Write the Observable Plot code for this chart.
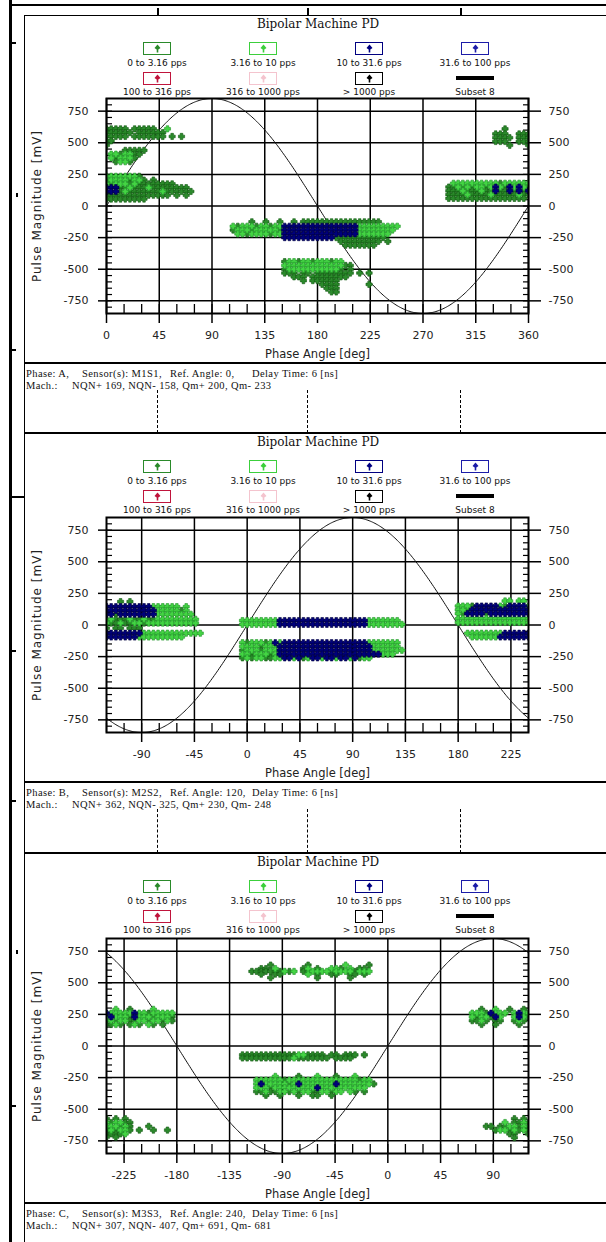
<!DOCTYPE html>
<html>
<head>
<meta charset="utf-8">
<script src="https://cdn.jsdelivr.net/npm/d3@7"></script>
<script src="https://cdn.jsdelivr.net/npm/@observablehq/plot@0.6"></script>
<style>
  body { margin: 0; background: #fff; }
  #page { position: relative; width: 606px; height: 1242px; overflow: hidden; background: #fff; }
  .rule { position: absolute; background: #000; }
  .dash { position: absolute; width: 0; border-left: 1.5px dashed #000; }
  .title { position: absolute; font: 12px "DejaVu Serif", serif; color: #111; transform: translateX(-50%); white-space: nowrap; line-height: 13px; }
  .lg-box { position: absolute; box-sizing: border-box; background: #fff; display: flex; align-items: center; justify-content: center; }
  .lg-label { position: absolute; font: 9px "DejaVu Sans", sans-serif; color: #111; transform: translateX(-50%); white-space: nowrap; line-height: 10px; }
  .info { position: absolute; font: 10.5px "Liberation Serif", serif; letter-spacing: 0.4px; color: #111; white-space: pre; line-height: 12px; }
  .plot { position: absolute; left: 0; }
  g[aria-label="y-axis label"] text { font-size: 12px; letter-spacing: 1px; }
  g[aria-label="x-axis label"] text { font-size: 11.5px; }
</style>
</head>
<body>
<div id="page"></div>
<script>
// ---- chart content -------------------------------------------------------
const chartTitle = "Bipolar Machine PD";
const xLabel = "Phase Angle [deg]";
const yLabel = "Pulse Magnitude [mV]";

// pulse-rate classes shown in the legend
const legendLabels = [
  "0 to 3.16 pps", "3.16 to 10 pps", "10 to 31.6 pps", "31.6 to 100 pps",
  "100 to 316 pps", "316 to 1000 pps", "> 1000 pps", "Subset 8"
];
const legendColors = ["#2a8a2a", "#3ccf3c", "#000080", "#1c1ca8", "#c0143c", "#f4c4ce", "#000000", "#000000"];

// phase axes (reference angles 0, 120, 240)
const xDomains = [[0, 360], [-120, 240], [-240, 120]];
const xTicksA = [0, 45, 90, 135, 180, 225, 270, 315, 360];
const xTicksB = [-90, -45, 0, 45, 90, 135, 180, 225];
const xTicksC = [-225, -180, -135, -90, -45, 0, 45, 90];
const yTicks = [-750, -500, -250, 0, 250, 500, 750];
const yDomain = [-850, 850];
const refAmplitude = 850; // reference sine drawn over each PRPD map

// info strip under each map
const infoLine1 = [
  ["Phase: A,", "Sensor(s): M1S1,", "Ref. Angle: 0,", "Delay Time: 6 [ns]"],
  ["Phase: B,", "Sensor(s): M2S2,", "Ref. Angle: 120,", "Delay Time: 6 [ns]"],
  ["Phase: C,", "Sensor(s): M3S3,", "Ref. Angle: 240,", "Delay Time: 6 [ns]"]
];
const infoLine2 = [
  ["Mach.:", "NQN+ 169, NQN- 158, Qm+ 200, Qm- 233"],
  ["Mach.:", "NQN+ 362, NQN- 325, Qm+ 230, Qm- 248"],
  ["Mach.:", "NQN+ 307, NQN- 407, Qm+ 691, Qm- 681"]
];

// PD pulse maps: [magnitude mV, first phase deg, one cell per phaseStep]
// d = 0-3.16 pps, l = 3.16-10 pps, n = 10-31.6 pps, "." = no pulses
const phaseStep = 4;
const clustersA = [
  [610, 0, "ddddd.ddddd..l"],
  [580, 0, "dddddd.dddddd"],
  [550, 0, "ddddd.ddddddd.d.d"],
  [515, 0, "dd"],
  [480, 0, "d"],
  [440, 16, "ddddd"],
  [410, 4, "lldlldd"],
  [380, 4, "ldllld"],
  [350, 8, "dlld"],
  [235, 0, "llllllld"],
  [205, 0, "dlllldlld.d"],
  [175, 0, "ldllldldddddddd"],
  [145, 0, "nnnddldddldddddddd"],
  [115, 0, "nnndldddddddldddddd"],
  [85, 0, "dddddddddddddd.d.d"],
  [55, 0, "ddddddddd"],
  [-125, 124, "d..d..d..d.ddddddddddddddddd"],
  [-160, 108, "ldllldlldllnnnnnnnnnnnnnnnnlllllllll"],
  [-190, 108, "dllldllllldnnnnnnnnnnnnnnnnllllllll"],
  [-220, 108, ".lldlllldllnnnnnnnnnnnnnnnnlllllll"],
  [-250, 108, "...........nnnnnnnnnnnddddddddddd"],
  [-280, 108, ".......................ddddddddd.d"],
  [-310, 108, "........................ddddddd"],
  [-440, 152, "dlldlldllldll"],
  [-470, 152, "llllllllllllldd"],
  [-500, 152, "dllllllllllld.d"],
  [-530, 152, "ddd.dd.dddddddd.d.d"],
  [-560, 152, "..ddd.dddddddd"],
  [-590, 152, "....d.dddddd"],
  [-620, 152, "........dddd......d"],
  [-650, 152, ".........ddd"],
  [-680, 152, "..........dd"],
  [180, 292, ".lllllllllldllllll"],
  [150, 292, "ddldldlldlnldnlnld"],
  [120, 292, "dddldddlddnddndndn"],
  [90, 292, "ddddlddddldddddldd"],
  [60, 292, "ddddddddddddddddd"],
  [610, 332, "..d....."],
  [570, 332, "ddd..ddd"],
  [540, 332, "dddd.ddd"],
  [510, 332, "ddd..ddd"],
  [480, 332, "...d...d"]
];
const clustersB = [
  [185, -120, "...d.d"],
  [145, -120, "nnnnnnnnnnllllll.l"],
  [115, -120, "nnnnnnnnnnnllllldl"],
  [85, -120, "nndnnnnnnnnllllllll"],
  [45, -120, "dldddlddlddlllllllll"],
  [15, -120, "lddlddlldlllllllllll"],
  [-25, -120, "d.dd.ddd"],
  [-65, -120, "nnnnnnnnlllllllllllll"],
  [-95, -120, "nnnnnnnllllllllll"],
  [35, -4, "llllllllnnnnnnnnnnnnnnnnnnnlllllll"],
  [5, -4, "llllllllnnnnnnnnnnnnnnnnnnnllllllll"],
  [-140, -4, "ldllldlnlnnnnnnnnnnnnnnnnnnlllllll"],
  [-170, -4, "lllldlllnnnnnnnnnnnnnnnnnnnnllllll"],
  [-200, -4, "dllldlllnnnnnnnnnnnnnnnnnnnnlllllll"],
  [-230, -4, "lldllldlnnnnnnnnnnnnnnnnnnnnnnlll"],
  [-260, -4, "dldllddllnnlndlnnlnnlnnlndll"],
  [190, 180, "..........ll.ll."],
  [150, 180, "llldnnnnnldnnnnl"],
  [120, 180, "lldnnnnnnnnnnnnn"],
  [90, 180, "ldnnnndnnnnnnnnn"],
  [50, 180, "llllllllllllllll"],
  [20, 180, "llllllllllllllll"],
  [-65, 180, "..llllllllnnnnnn"],
  [-95, 180, "...llllllnnnnnnn"]
];
const clustersC = [
  [290, -240, "..l..d....l"],
  [260, -240, "nlllllnlldlllll"],
  [230, -240, "lnllldnllldllld"],
  [200, -240, "dldllddlldlldld"],
  [170, -240, "ddld.dld.ld.d"],
  [640, -116, "....d.......d.......l....d"],
  [612, -116, "..dd.l.....dl.d..lld.l.dd."],
  [590, -116, "dddddddldl.ddlllldlllldlll"],
  [568, -116, "..d..dd.....l.d..dd..dd.d."],
  [540, -116, "....d.........d......d...."],
  [-70, -124, "ddddddddddddlldddd.dd.ddd.d"],
  [-95, -124, "dddddddddddlddddddd.dddd"],
  [-240, -112, "....l....d...l...d...l...."],
  [-270, -112, "lllllldllllllllllllllldll"],
  [-300, -112, "lnllllldlnlllllllnllllllld"],
  [-330, -112, "llldlllllllllnllllllllll"],
  [-360, -112, "ddlddlldldllddlldll.ld.d"],
  [-390, -112, "..d..d...d..dd..d"],
  [290, 72, "..d..l..d..d."],
  [260, 72, "llldnlll.lnll"],
  [230, 72, "ldlldnl..lnld"],
  [200, 72, "ddld.dd..dld."],
  [170, 72, "..d..d....d.."],
  [-575, -240, "d.d.d"],
  [-605, -240, "ldlldd"],
  [-635, -240, "llldld...d"],
  [-665, -240, "dldlld.d..d..d"],
  [-695, -240, "ddddl"],
  [-720, -240, "d.d"],
  [-575, 84, "......d.d."],
  [-605, 84, "....l.ddld"],
  [-635, 84, "dd.ddlldld"],
  [-665, 84, "..dlldldld"],
  [-695, 84, ".....dd..d"],
  [-725, 84, "......d..."]
];

// ---- drawing ---------------------------------------------------------------
const rateFill = { d: "#2b8a2b", l: "#44d444", n: "#00007c" };
const rateStroke = { d: "#125a12", l: "#22962a", n: "#00003f" };

// filled cross used for every pulse marker
const crossSymbol = {
  draw(ctx, size) {
    const r = Math.sqrt(size / Math.PI);
    const w = r * 0.42;
    ctx.moveTo(-w, -r); ctx.lineTo(w, -r); ctx.lineTo(w, -w); ctx.lineTo(r, -w);
    ctx.lineTo(r, w); ctx.lineTo(w, w); ctx.lineTo(w, r); ctx.lineTo(-w, r);
    ctx.lineTo(-w, w); ctx.lineTo(-r, w); ctx.lineTo(-r, -w); ctx.lineTo(-w, -w);
    ctx.closePath();
  }
};

function expandRows(rows) {
  const out = [];
  for (const [mv, start, cells] of rows) {
    [...cells].forEach((c, i) => {
      if (c !== ".") out.push({ phase: start + i * phaseStep, mv, rate: c });
    });
  }
  return out;
}

const page = document.getElementById("page");
function el(cls, css, text) {
  const e = document.createElement("div");
  e.className = cls;
  Object.assign(e.style, css);
  if (text != null) e.textContent = text;
  page.appendChild(e);
  return e;
}
const px = (v) => v + "px";
function rule(x, y, w, h) { el("rule", { left: px(x), top: px(y), width: px(w), height: px(h) }); }

// page frame
rule(9, 0, 2.5, 1242);
rule(9, 4, 597, 2);
rule(23.5, 15, 1.5, 1227);
rule(24, 14.5, 582, 1.2);
const stripDashX = [157, 307, 460];
for (const x of stripDashX) rule(x, 8, 1.5, 7);
for (const y of [42, 349, 650, 800, 1105]) rule(12, y, 4, 1.5);
for (const y of [195, 952]) rule(16, y - 2, 1.5, 4);
rule(12, 496, 12, 1.5);

const panelTops = [15, 433, 853];
const frameTops = [98, 517, 938];
const frameHeight = 215;
const xTickSets = [xTicksA, xTicksB, xTicksC];
const clusterSets = [clustersA, clustersB, clustersC];
const legendX = [157, 263, 369, 475];

function legendMarker(color) {
  const ns = "http://www.w3.org/2000/svg";
  const s = document.createElementNS(ns, "svg");
  s.setAttribute("width", "9"); s.setAttribute("height", "9");
  const p = document.createElementNS(ns, "path");
  p.setAttribute("d", "M4.5,0.5L7.5,4L5.3,5.5V8.5H3.7V5.5L1.5,4Z");
  p.setAttribute("fill", color);
  s.appendChild(p);
  return s;
}

panelTops.forEach((T, i) => {
  const F = frameTops[i];
  if (i > 0) rule(24, T - 1, 582, 2.2);

  el("title", { left: px(318), top: px(T + 3) }, chartTitle);

  // legend, two rows of four
  legendLabels.forEach((lab, k) => {
    const col = k % 4, row = Math.floor(k / 4);
    const cx = legendX[col];
    const boxTop = T + (row === 0 ? 27 : 57);
    const labelTop = T + (row === 0 ? 43 : 72);
    if (k === 7) {
      rule(cx - 19, T + 61, 38, 4);
    } else {
      const b = el("lg-box", {
        left: px(cx - 14), top: px(boxTop), width: px(28), height: px(13),
        border: `1.5px solid ${legendColors[k]}`
      });
      b.appendChild(legendMarker(legendColors[k]));
    }
    el("lg-label", { left: px(cx), top: px(labelTop) }, lab);
  });

  // the map itself
  const [x0, x1] = xDomains[i];
  const pts = expandRows(clusterSets[i]);
  const sine = d3.range(x0, x1 + 0.5, 1).map((p) => ({ p, v: refAmplitude * Math.sin(p * Math.PI / 180) }));
  const minorX = d3.range(x0, x1 + 0.1, 15);
  const minorY = d3.range(-800, 801, 50);
  const marginTop = 6, marginBottom = 52;
  const chart = Plot.plot({
    width: 606,
    height: marginTop + frameHeight + marginBottom,
    marginLeft: 106, marginRight: 78, marginTop, marginBottom,
    x: { domain: [x0, x1] },
    y: { domain: yDomain },
    style: { fontFamily: "'DejaVu Sans', sans-serif", fontSize: "11px", color: "#222", background: "transparent", overflow: "visible" },
    marks: [
      Plot.gridX(xTickSets[i], { stroke: "#000", strokeOpacity: 1, strokeWidth: 1.5 }),
      Plot.gridY(yTicks, { stroke: "#000", strokeOpacity: 1, strokeWidth: 1.5 }),
      Plot.axisX(minorX, { anchor: "bottom", tickSize: -9, fill: "none", stroke: "#000", strokeWidth: 1.3 }),
      Plot.axisY(minorY, { anchor: "left", tickSize: -6, fill: "none", stroke: "#000", strokeWidth: 1.2 }),
      Plot.axisY(minorY, { anchor: "right", tickSize: -6, fill: "none", stroke: "#000", strokeWidth: 1.2 }),
      Plot.line(sine, { x: "p", y: "v", stroke: "#111", strokeWidth: 1, clip: true }),
      ...["d", "l", "n"].map((c) => Plot.dot(pts.filter((p) => p.rate === c), {
        x: "phase", y: "mv", symbol: crossSymbol, r: 3.1,
        fill: rateFill[c], stroke: rateStroke[c], strokeWidth: 0.6, clip: true
      })),
      Plot.frame({ stroke: "#000", strokeWidth: 2 }),
      Plot.axisX(xTickSets[i], {
        anchor: "bottom", tickSize: 10, tickPadding: 8, tickFormat: (d) => String(d),
        stroke: "#000", strokeWidth: 1.5,
        label: xLabel, labelAnchor: "center", labelOffset: 44, labelArrow: false
      }),
      Plot.axisY(yTicks, {
        anchor: "left", tickSize: 8, tickPadding: 10, tickFormat: (d) => String(d),
        stroke: "#000", strokeWidth: 1.5,
        label: yLabel, labelAnchor: "center", labelOffset: 74, labelArrow: false
      }),
      Plot.axisY(yTicks, {
        anchor: "right", tickSize: 12, tickPadding: 8, tickFormat: (d) => String(d),
        stroke: "#000", strokeWidth: 1.5, label: null
      })
    ]
  });
  chart.classList.add("plot");
  chart.style.top = px(F - marginTop);
  page.appendChild(chart);

  // info strip
  const stripTop = F + 265;
  rule(24, stripTop - 1, 582, 2.2);
  const segX1 = [26, 82, 170, 252];
  infoLine1[i].forEach((s, k) => el("info", { left: px(segX1[k]), top: px(F + 270) }, s));
  const segX2 = [26, 72];
  infoLine2[i].forEach((s, k) => el("info", { left: px(segX2[k]), top: px(F + 282) }, s));
  if (i < 2) {
    const nextTop = panelTops[i + 1];
    for (const x of stripDashX) el("dash", { left: px(x), top: px(F + 292), height: px(nextTop - F - 292) });
  }
});
</script>
</body>
</html>
